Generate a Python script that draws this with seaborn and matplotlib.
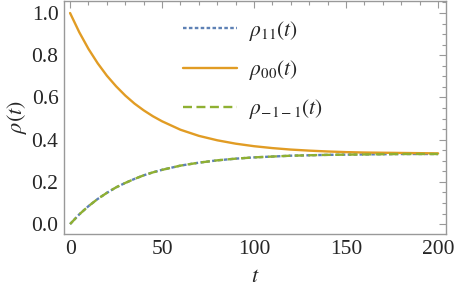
import matplotlib
matplotlib.use('Agg')
import matplotlib.pyplot as plt
import numpy as np
import pandas as pd
import seaborn as sns
from matplotlib.ticker import MultipleLocator, FormatStrFormatter

sns.set_style('white')
plt.rcParams.update({'font.family'      : ['Liberation Serif', 'DejaVu Serif'],
                     'mathtext.fontset' : 'stix',
                     'font.size'        : 15.5})

#-- data --
t_vals      = [0, 5, 10, 15, 20, 25, 30, 35, 40, 45, 50, 60, 70, 80, 90,
               100, 110, 120, 130, 140, 150, 160, 170, 180, 190, 200]
rho_00      = [1.000, 0.909, 0.830, 0.762, 0.703, 0.653, 0.609, 0.571, 0.539, 0.511,
               0.487, 0.447, 0.418, 0.397, 0.381, 0.369, 0.360, 0.353, 0.348, 0.344,
               0.341, 0.339, 0.338, 0.337, 0.336, 0.335]
rho_11      = [0.000, 0.046, 0.085, 0.119, 0.148, 0.174, 0.195, 0.214, 0.231, 0.245,
               0.257, 0.277, 0.291, 0.302, 0.310, 0.316, 0.320, 0.324, 0.326, 0.328,
               0.329, 0.330, 0.331, 0.332, 0.332, 0.332]
rho_m1m1    = list(rho_11)

labels      = [r'$\rho_{11}(t)$', r'$\rho_{00}(t)$', r'$\rho_{-1-1}(t)$']
colors      = ['#5E81B5', '#E19C24', '#8FB032']
styles      = [(0, (1.5, 1.0)), '-', (0, (3.8, 1.9))]

df = pd.DataFrame({'t': t_vals, 'r11': rho_11, 'r00': rho_00, 'rm1m1': rho_m1m1})

fig = plt.figure(figsize=(4.57, 2.95), dpi=100)
ax = fig.add_axes([64/457, 61/295, 382/457, 233/295])

for col, lab, c, ls in zip(['r11', 'r00', 'rm1m1'], labels, colors, styles):
    sns.lineplot(data=df, x='t', y=col, ax=ax, color=c, linestyle=ls, linewidth=1.7, label=lab)

ax.set_xlim(-3.3, 204.3)
ax.set_ylim(-0.047, 1.057)
ax.xaxis.set_major_locator(MultipleLocator(50))
ax.xaxis.set_minor_locator(MultipleLocator(10))
ax.yaxis.set_major_locator(MultipleLocator(0.2))
ax.yaxis.set_minor_locator(MultipleLocator(0.05))
ax.yaxis.set_major_formatter(FormatStrFormatter('%.1f'))
ax.tick_params(which='both', direction='in', top=True, right=True, color='#999999', width=0.8)
ax.tick_params(which='major', length=5, labelsize=15.5, pad=4)
ax.tick_params(which='minor', length=3)
for sp in ax.spines.values():
    sp.set_color('#999999')
    sp.set_linewidth(1.0)

ax.set_xlabel(r'$t$', fontsize=16, labelpad=7)
ax.set_ylabel(r'$\rho(t)$', fontsize=16, labelpad=2)

ax.legend(loc='upper left', bbox_to_anchor=(183/457, 1 - 19/295), bbox_transform=fig.transFigure,
          frameon=False, fontsize=15.5, handlelength=2.5, handletextpad=0.55, labelspacing=0.7,
          borderpad=0, borderaxespad=0)

plt.savefig('out.png', dpi=100)
